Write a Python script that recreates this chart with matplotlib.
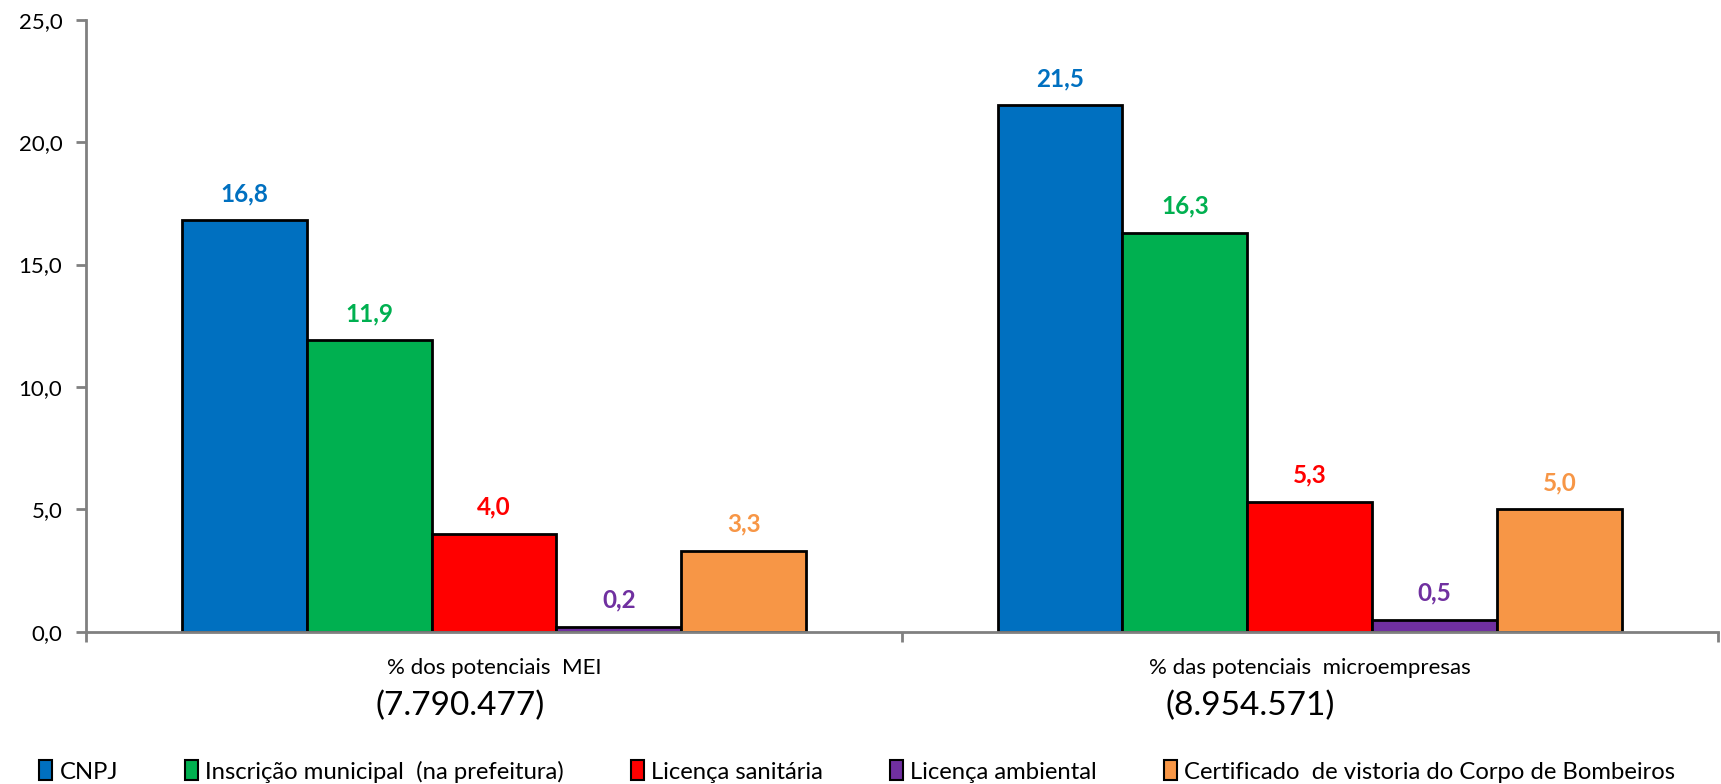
import numpy as np
import matplotlib.pyplot as plt
from matplotlib.patches import Patch
from matplotlib.transforms import blended_transform_factory

plt.rcParams["font.family"] = ["Lato", "DejaVu Sans"]

groups = ["% dos potenciais  MEI", "% das potenciais  microempresas"]
group_totals = ["(7.790.477)", "(8.954.571)"]
series = ["CNPJ", "Inscrição municipal  (na prefeitura)", "Licença sanitária",
          "Licença ambiental", "Certificado  de vistoria do Corpo de Bombeiros"]
values = [
    [16.8, 21.5],
    [11.9, 16.3],
    [4.0, 5.3],
    [0.2, 0.5],
    [3.3, 5.0],
]
colors = ["#0070C0", "#00B050", "#FF0000", "#7030A0", "#F79646"]

fig = plt.figure(figsize=(17.21, 7.84), dpi=100)
ax = fig.add_axes([0.05, 0.194, 0.948, 0.781])

x = np.arange(len(groups))
w = 0.153
for i, (name, vals) in enumerate(zip(series, values)):
    pos = x + (i - 2) * w
    ax.bar(pos, vals, w, color=colors[i], edgecolor="black", linewidth=2, label=name, zorder=2)
    for p, v in zip(pos, vals):
        ax.annotate(f"{v:.1f}".replace(".", ","), (p, v), xytext=(0, 11), textcoords="offset points",
                    ha="center", va="bottom", color=colors[i], fontsize=17.5, fontweight="bold")

ax.set_xlim(-0.5, 1.5)
ax.set_ylim(0, 25)
ax.set_yticks(np.arange(0, 26, 5))
ax.set_yticklabels([f"{t:.1f}".replace(".", ",") for t in np.arange(0, 26, 5)], fontsize=16)
ax.set_xticks([-0.5, 0.5, 1.5])
ax.set_xticklabels([])
ax.tick_params(axis="both", color="#808080", width=2, length=7)
ax.tick_params(axis="y", pad=10)

for s in ["top", "right"]:
    ax.spines[s].set_visible(False)
for s in ["left", "bottom"]:
    ax.spines[s].set_color("#808080")
    ax.spines[s].set_linewidth(2)

trans = blended_transform_factory(ax.transData, fig.transFigure)
for xi, g in zip(x, groups):
    ax.text(xi, 0.148, g, transform=trans, ha="center", va="center", fontsize=16)
for xi, t, dx in zip(x, group_totals, [-0.041, -0.073]):
    ax.text(xi + dx, 0.100, t, transform=trans, ha="center", va="center", fontsize=24)

handles = [Patch(facecolor=c, edgecolor="black", linewidth=1.5) for c in colors]
fig.legend(handles, series, loc="center", bbox_to_anchor=(0.498, 0.016), ncol=5, frameon=False,
           fontsize=17.2, handlelength=0.55, handleheight=0.9, handletextpad=0.3, columnspacing=2.8)

fig.savefig("out.png", dpi=100)
